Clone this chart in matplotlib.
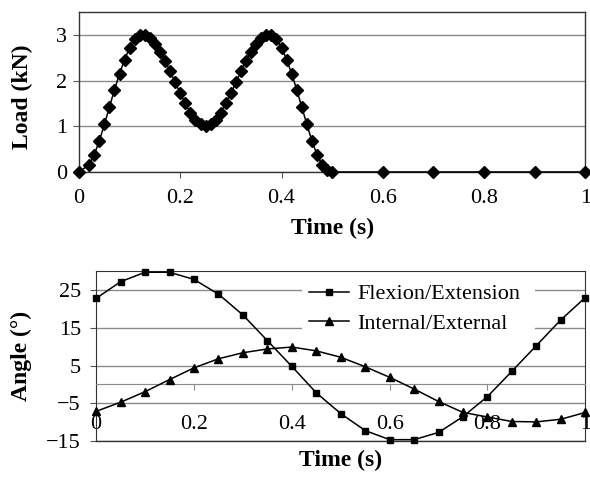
import matplotlib
matplotlib.use("Agg")
import matplotlib.pyplot as plt

plt.rcParams['font.family'] = ['Liberation Serif', 'DejaVu Serif']
plt.rcParams['axes.unicode_minus'] = True

# load cycle (kN) against time (s)
load_time = [0.00, 0.02, 0.03, 0.04, 0.05, 0.06, 0.07, 0.08, 0.09, 0.10,
             0.11, 0.12, 0.13, 0.14, 0.15, 0.16, 0.17, 0.18, 0.19, 0.20,
             0.21, 0.22, 0.23, 0.24, 0.25, 0.26, 0.27, 0.28, 0.29, 0.30,
             0.31, 0.32, 0.33, 0.34, 0.35, 0.36, 0.37, 0.38, 0.39, 0.40,
             0.41, 0.42, 0.43, 0.44, 0.45, 0.46, 0.47, 0.48, 0.49, 0.50,
             0.60, 0.70, 0.80, 0.90, 1.00]
load_kn = [0.00, 0.16, 0.38, 0.68, 1.04, 1.42, 1.80, 2.15, 2.46, 2.72,
           2.90, 2.99, 2.99, 2.92, 2.80, 2.63, 2.43, 2.20, 1.96, 1.72,
           1.50, 1.30, 1.14, 1.04, 1.00, 1.04, 1.14, 1.30, 1.50, 1.72,
           1.96, 2.20, 2.43, 2.63, 2.80, 2.92, 2.99, 2.99, 2.90, 2.72,
           2.46, 2.15, 1.80, 1.42, 1.04, 0.68, 0.38, 0.16, 0.04, 0.00,
           0.00, 0.00, 0.00, 0.00, 0.00]

# joint angles (deg)
angle_time = [0.00, 0.05, 0.10, 0.15, 0.20, 0.25, 0.30, 0.35, 0.40, 0.45, 0.50,
              0.55, 0.60, 0.65, 0.70, 0.75, 0.80, 0.85, 0.90, 0.95, 1.00]
flexion = [22.8, 27.2, 29.7, 29.7, 27.8, 23.9, 18.4, 11.6, 4.8, -2.2, -7.7,
           -12.2, -14.6, -14.6, -12.7, -8.5, -3.2, 3.5, 10.3, 17.1, 23.0]
internal = [-7.1, -4.7, -1.9, 1.3, 4.4, 6.8, 8.4, 9.4, 9.9, 8.9, 7.2,
            4.7, 1.9, -1.2, -4.5, -7.4, -8.6, -9.8, -9.9, -9.2, -7.4]

x_ticks = [0, 0.2, 0.4, 0.6, 0.8, 1]
x_ticklabels = ['0', '0.2', '0.4', '0.6', '0.8', '1']
load_ticks = [0, 1, 2, 3]
angle_ticks = [-15, -5, 5, 15, 25]

FS = 16
LABEL_FS = 17
GRID = '#8a8a8a'
FRAME = '#333333'

fig = plt.figure(figsize=(5.9, 4.79), dpi=100)

# --- load plot ---
ax1 = fig.add_axes([0.134, 0.641, 0.858, 0.334])
ax1.plot(load_time, load_kn, color='black', linewidth=1.1, marker='D',
         markersize=5.8, zorder=3, clip_on=False)
ax1.set_xlim(0, 1)
ax1.set_ylim(0, 3.5)
ax1.set_xticks(x_ticks)
ax1.set_xticklabels(x_ticklabels)
ax1.set_yticks(load_ticks)
ax1.yaxis.grid(True, color=GRID, linewidth=1.0)
ax1.set_axisbelow(True)
ax1.tick_params(axis='x', direction='out', length=4, pad=8, labelsize=FS, color='#555555')
ax1.tick_params(axis='y', direction='out', length=4, pad=4.5, labelsize=FS, color='#555555')
ax1.set_xlabel('Time (s)', fontsize=LABEL_FS, fontweight='bold')
ax1.set_ylabel('Load (kN)', fontsize=LABEL_FS, fontweight='bold')
ax1.xaxis.set_label_coords(0.5, -0.29)
ax1.yaxis.set_label_coords(-0.091, 0.47)
for s in ax1.spines.values():
    s.set_color(FRAME)
    s.set_linewidth(1.0)

# --- angle plot ---
ax2 = fig.add_axes([0.163, 0.079, 0.829, 0.355])
ax2.plot(angle_time, flexion, color='black', linewidth=1.1, marker='s',
         markersize=4.8, label='Flexion/Extension', zorder=3, clip_on=False)
ax2.plot(angle_time, internal, color='black', linewidth=1.1, marker='^',
         markersize=5.8, label='Internal/External', zorder=3, clip_on=False)
ax2.set_xlim(0, 1)
ax2.set_ylim(-15, 30)
ax2.set_xticks(x_ticks)
ax2.set_xticklabels(x_ticklabels)
ax2.set_yticks(angle_ticks)
ax2.yaxis.grid(True, color=GRID, linewidth=1.0)
ax2.set_axisbelow(True)
# horizontal axis crosses at zero, frame closed by a line at the bottom
ax2.spines['bottom'].set_position(('data', 0))
ax2.spines['bottom'].set_color(GRID)
ax2.axhline(-15, color=FRAME, linewidth=1.0, clip_on=False, zorder=2)
for side in ('top', 'left', 'right'):
    ax2.spines[side].set_color(FRAME)
ax2.tick_params(axis='x', direction='out', length=4, pad=18, labelsize=FS, color=GRID)
ax2.tick_params(axis='y', direction='out', length=4, pad=7, labelsize=FS, color='#555555')
ax2.set_xlabel('Time (s)', fontsize=LABEL_FS, fontweight='bold')
ax2.set_ylabel('Angle (°)', fontsize=LABEL_FS, fontweight='bold')
ax2.xaxis.set_label_coords(0.5, -0.05)
ax2.yaxis.set_label_coords(-0.131, 0.5)

leg = ax2.legend(loc='upper left', bbox_to_anchor=(0.421, 0.0, 0.477, 0.965),
                 mode='expand', fontsize=FS, frameon=True, fancybox=False,
                 framealpha=1, edgecolor='none', handlelength=1.8,
                 handletextpad=0.4, labelspacing=0.42, borderpad=0.3,
                 borderaxespad=0)
leg.get_frame().set_facecolor('white')

fig.savefig('out.png', dpi=100)
